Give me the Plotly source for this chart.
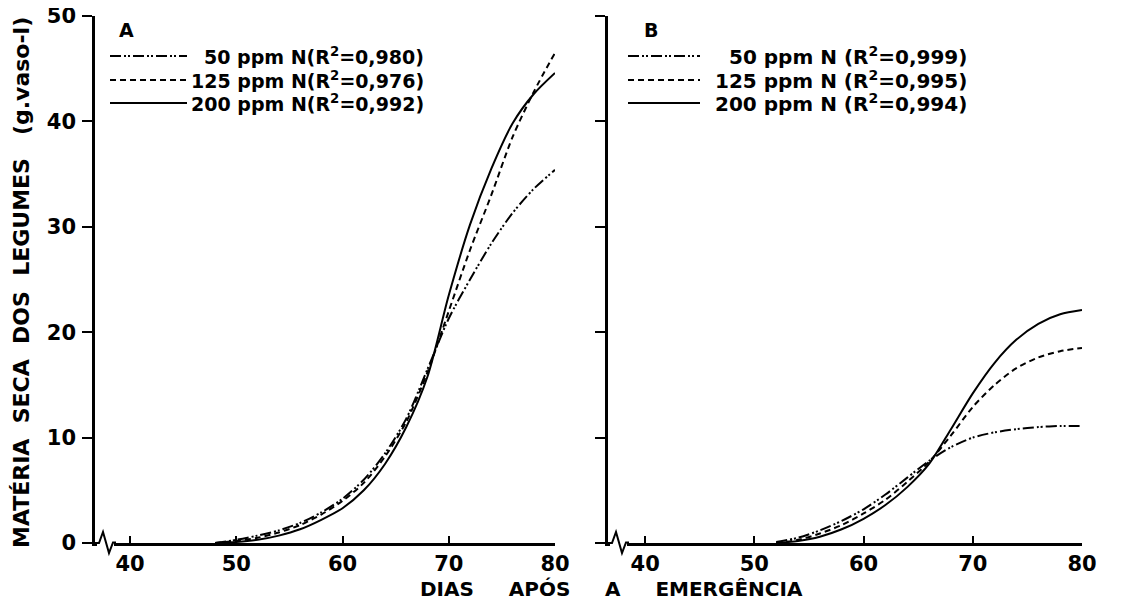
import plotly.graph_objects as go

# ---------------- data ----------------
days_a = [48, 50, 52, 54, 56, 58, 60, 62, 64, 66, 68, 70, 72, 74, 76, 78, 80]
a_50 = [0, 0.3, 0.7, 1.2, 1.9, 2.9, 4.2, 6.0, 8.5, 11.8, 16.5, 21.3, 25.0, 28.4, 31.3, 33.6, 35.4]
a_125 = [0, 0.2, 0.5, 1.0, 1.7, 2.7, 4.0, 5.7, 8.2, 11.5, 16.2, 22.0, 27.8, 33.0, 38.5, 42.8, 46.5]
a_200 = [0, 0.1, 0.3, 0.7, 1.3, 2.2, 3.3, 5.0, 7.5, 11.0, 15.8, 23.5, 30.2, 35.5, 39.8, 42.6, 44.6]

days_b = [52, 54, 56, 58, 60, 62, 64, 66, 68, 70, 72, 74, 76, 78, 80]
b_50 = [0.1, 0.5, 1.2, 2.1, 3.2, 4.6, 6.2, 7.8, 9.1, 10.0, 10.5, 10.8, 11.0, 11.1, 11.1]
b_125 = [0, 0.3, 0.9, 1.7, 2.8, 4.1, 5.8, 7.7, 10.2, 12.9, 15.0, 16.6, 17.6, 18.2, 18.5]
b_200 = [0, 0.2, 0.6, 1.3, 2.3, 3.6, 5.3, 7.5, 10.8, 14.2, 17.1, 19.3, 20.8, 21.7, 22.1]

labels_a = ["50 ppm N(R<sup>2</sup>=0,980)", "125 ppm N(R<sup>2</sup>=0,976)", "200 ppm N(R<sup>2</sup>=0,992)"]
labels_b = ["50 ppm N (R<sup>2</sup>=0,999)", "125 ppm N (R<sup>2</sup>=0,995)", "200 ppm N (R<sup>2</sup>=0,994)"]
x_ticks = [40, 50, 60, 70, 80]
y_ticks = [0, 10, 20, 30, 40, 50]

# ---------------- styles ----------------
dashes = ["11px,3px,2px,2px,2px,3px", "6px,4px", "solid"]
FONT = "DejaVu Sans"

fig = go.Figure()
for xs, series, xa, ya in [(days_a, [a_50, a_125, a_200], "x", "y"),
                           (days_b, [b_50, b_125, b_200], "x2", "y2")]:
    for ys, d in zip(series, dashes):
        fig.add_trace(go.Scatter(x=xs, y=ys, mode="lines", xaxis=xa, yaxis=ya,
                                 line=dict(color="black", width=2, dash=d, shape="spline", smoothing=0.8),
                                 showlegend=False, hoverinfo="skip", cliponaxis=False))

# page body has an 8px margin, so the figure is drawn 8px in from the top-left
OFF = 8
W, H = 1137 - 2 * OFF, 610 - 2 * OFF
L, R, T, B = 95 - OFF, 55 - OFF, 16 - OFF, 67 - OFF
pw = W - L - R
ph = H - T - B


def px(X):  # reference pixel x -> paper fraction
    return (X - 95) / pw


def py(Y):  # reference pixel y -> paper fraction
    return (543 - Y) / ph


dA = [0, px(555)]
dB = [px(608), 1]

xcommon = dict(tickvals=x_ticks, ticks="inside", ticklen=7, tickwidth=2, tickcolor="black",
               showline=True, linecolor="black", linewidth=2.5, showgrid=False, zeroline=False,
               ticklabeloverflow="allow", automargin=False, ticklabelstandoff=0,
               tickfont=dict(family=FONT, size=21, color="black", weight="bold"))
ycommon = dict(range=[0, 50], tickvals=y_ticks, ticks="outside", ticklen=10, tickwidth=2,
               tickcolor="black", showline=True, linecolor="black", linewidth=2.5,
               showgrid=False, zeroline=False, ticklabeloverflow="allow", automargin=False,
               tickfont=dict(family=FONT, size=21, color="black", weight="bold"))

fig.update_layout(
    width=W, height=H, margin=dict(l=L, r=R, t=T, b=B, autoexpand=False),
    paper_bgcolor="white", plot_bgcolor="white",
    xaxis=dict(domain=dA, range=[36.7, 80], anchor="y", **xcommon),
    xaxis2=dict(domain=dB, range=[36.6, 80], anchor="y2", **xcommon),
    yaxis=dict(anchor="x", ticklabelstandoff=2, **ycommon),
    yaxis2=dict(anchor="x2", showticklabels=False, **ycommon),
)

shapes = []
annotations = []
# axis break zig-zags (white cover + zigzag), drawn in paper space so they are not clipped
for X in [95, 608]:
    shapes.append(dict(type="rect", xref="paper", yref="paper", x0=px(X + 2), x1=px(X + 19),
                       y0=py(546), y1=py(540), fillcolor="white", line=dict(width=0), layer="above"))
    pts = [(X, 543), (X + 4, 543), (X + 8, 532), (X + 14, 553), (X + 18, 542.5), (X + 21, 542.5)]
    path = "M " + " L ".join(f"{px(a):.5f} {py(b):.5f}" for a, b in pts)
    shapes.append(dict(type="path", xref="paper", yref="paper", path=path,
                       line=dict(color="black", width=2), layer="above"))

# legend-like keys
for xr, yr, labels, X0, X1, XT, title, XA, x_left, x_w, fs in [
        ("x domain", "y domain", labels_a, 110, 187, 426, "A", 126, 95, 555 - 95, 19),
        ("x2 domain", "y2 domain", labels_b, 628, 700, 969, "B", 651, 608, 1082 - 608, 20)]:
    def fx(X):
        return (X - x_left) / x_w
    annotations.append(dict(xref=xr, yref=yr, x=fx(XA), y=py(30), text=f"<b>{title}</b>",
                            showarrow=False, xanchor="center", yanchor="middle",
                            font=dict(family=FONT, size=19, color="black")))
    for i, (lab, d) in enumerate(zip(labels, dashes)):
        yf = py([56, 80, 103][i])
        shapes.append(dict(type="line", xref=xr, yref=yr, x0=fx(X0), x1=fx(X1), y0=yf, y1=yf,
                           line=dict(color="black", width=2, dash=d)))
        annotations.append(dict(xref=xr, yref=yr, x=fx(XT), y=yf, text=f"<b>{lab}</b>", showarrow=False,
                                xanchor="right", yanchor="middle",
                                font=dict(family=FONT, size=fs, color="black")))

# axis titles
annotations.append(dict(xref="paper", yref="paper", x=px(611), y=py(589),
                        text="<b>DIAS     APÓS     A     EMERGÊNCIA</b>", showarrow=False,
                        xanchor="center", yanchor="middle",
                        font=dict(family=FONT, size=20, color="black")))
annotations.append(dict(xref="paper", yref="paper", x=px(21), y=py(283),
                        text="<b>MATÉRIA  SECA  DOS  LEGUMES   (g.vaso-l)</b>", showarrow=False,
                        textangle=-90, xanchor="center", yanchor="middle",
                        font=dict(family=FONT, size=22, color="black")))

fig.update_layout(shapes=shapes, annotations=annotations)
fig.write_html("out.html")
